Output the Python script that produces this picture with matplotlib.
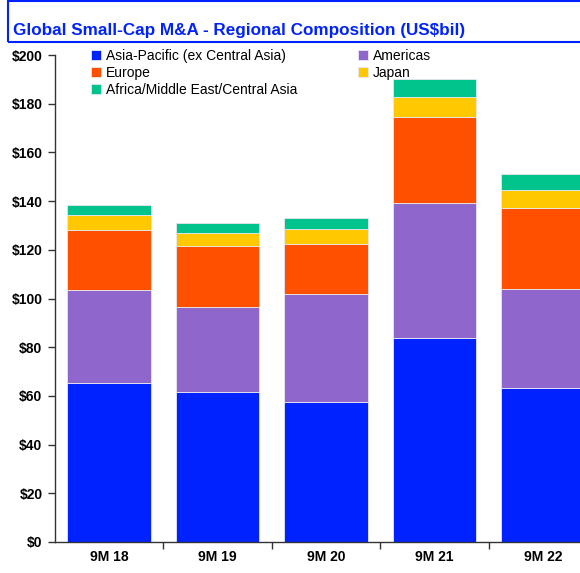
import matplotlib.pyplot as plt
import matplotlib.patches as mpatches
import numpy as np

plt.rcParams['font.family'] = ['Liberation Sans', 'DejaVu Sans']

# Дані (US$ млрд)
periods = ['9M 18', '9M 19', '9M 20', '9M 21', '9M 22']
asia_pacific = [65.3, 61.7, 57.5, 83.9, 63.1]
americas = [38.1, 34.8, 44.2, 55.2, 40.8]
europe = [24.9, 25.1, 20.8, 35.4, 33.4]
japan = [6.0, 5.3, 6.0, 8.1, 7.4]
ameca = [4.1, 4.0, 4.4, 7.4, 6.6]

series = [
    ('Asia-Pacific (ex Central Asia)', asia_pacific, '#0022ff'),
    ('Americas', americas, '#8f66cc'),
    ('Europe', europe, '#ff5000'),
    ('Japan', japan, '#ffc800'),
    ('Africa/Middle East/Central Asia', ameca, '#00c48c'),
]

W, H = 580, 573
fig = plt.figure(figsize=(W / 100, H / 100), dpi=100)
ax = fig.add_axes([55 / W, 1 - 542 / H, (580 - 55) / W, (542 - 55) / H])

x = np.arange(len(periods))
bottom = np.zeros(len(periods))
handles = {}
for name, vals, col in series:
    b = ax.bar(x, vals, width=0.77, bottom=bottom, color=col,
               edgecolor='#e8e8f0', linewidth=0.6, label=name)
    handles[name] = b
    bottom += np.array(vals)

# Осі
ax.set_ylim(0, 200)
ax.set_xlim(-0.5, 4.5 - 17 / 108.5)
ax.set_yticks(np.arange(0, 201, 20))
ax.set_yticklabels([f'${v}' for v in range(0, 201, 20)], fontsize=10, fontweight='bold')
ax.set_xticks(x)
ax.set_xticklabels(periods, fontsize=10, fontweight='bold')
ax.set_xticks(np.arange(0.5, 4.0, 1), minor=True)
ax.tick_params(axis='x', which='major', length=0, pad=6)
ax.tick_params(axis='x', which='minor', length=5, width=1, color='#333333')
ax.tick_params(axis='y', length=5, width=1, color='#333333', pad=4)
for s in ['top', 'right']:
    ax.spines[s].set_visible(False)
for s in ['left', 'bottom']:
    ax.spines[s].set_color('#333333')
    ax.spines[s].set_linewidth(1)

# Заголовок у синій рамці
fig.patches.append(mpatches.Rectangle((8 / W, 1 - 42 / H), 1.0, 41 / H,
                                      transform=fig.transFigure, fill=False,
                                      edgecolor='#0022ff', linewidth=1.5))
fig.text(13 / W, 1 - 35 / H, 'Global Small-Cap M&A - Regional Composition (US$bil)',
         color='#0022ff', fontsize=12.3, fontweight='bold', ha='left', va='baseline')

# Легенда
order = ['Asia-Pacific (ex Central Asia)', 'Europe', 'Africa/Middle East/Central Asia',
         'Americas', 'Japan']
leg = fig.legend([handles[n] for n in order], order, ncol=2, frameon=False,
                 loc='upper left', bbox_to_anchor=(84 / W, 1 - 42 / H),
                 fontsize=10, handlelength=0.75, handleheight=0.75, handletextpad=0.3,
                 labelspacing=0.2, columnspacing=4.4, borderpad=0)

fig.savefig('out.png', dpi=100)
